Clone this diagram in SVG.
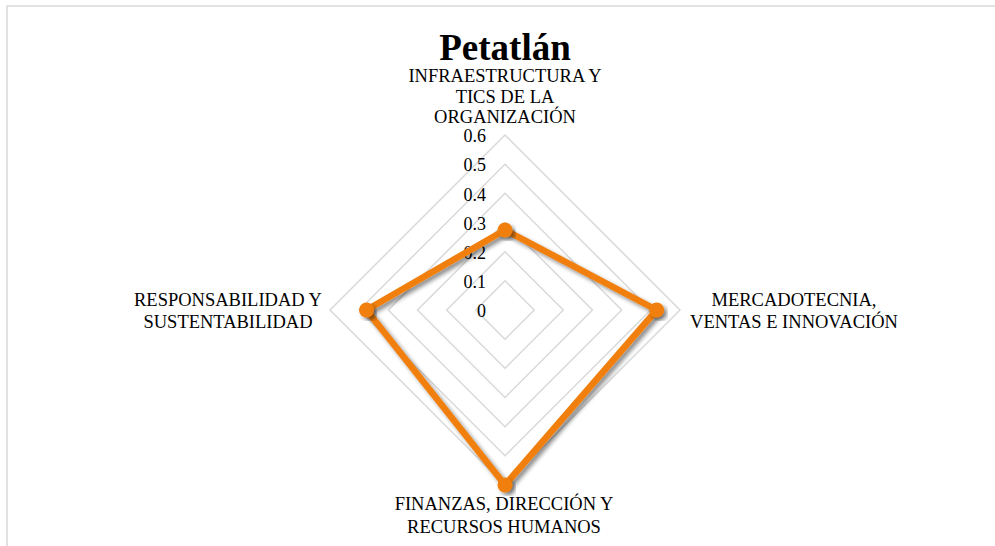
<svg xmlns="http://www.w3.org/2000/svg" width="995" height="546" viewBox="0 0 995 546">
<style>
.lbl{font-family:"Liberation Serif","Times New Roman",serif;font-size:18.5px;fill:#000;text-anchor:middle}
.tick{font-family:"Liberation Serif","Times New Roman",serif;font-size:18px;fill:#000;text-anchor:end}
.title{font-family:"Liberation Serif","Times New Roman",serif;font-size:37px;font-weight:bold;fill:#000;text-anchor:middle}
.grid{fill:none;stroke:#d9d9d9;stroke-width:1.5}
.series{fill:none;stroke:#f07f0c;stroke-width:6.5;stroke-linejoin:round}
.mk{fill:#f07f0c}
</style>
<defs>
<filter id="sh" x="-20%" y="-20%" width="140%" height="140%">
<feGaussianBlur in="SourceAlpha" stdDeviation="2"/>
<feOffset dx="2.5" dy="2.5" result="o"/>
<feComponentTransfer><feFuncA type="linear" slope="0.45"/></feComponentTransfer>
<feMerge><feMergeNode/><feMergeNode in="SourceGraphic"/></feMerge>
</filter>
</defs>
<rect width="995" height="546" fill="#fff"/>
<rect x="7" y="6" width="995" height="560" fill="none" stroke="#d9d9d9" stroke-width="1.5"/>
<g id="title"><text class="title" x="505" y="60">Petatlán</text></g>
<g id="grid">
<polygon class="grid" points="505,280.8 534.2,310 505,339.2 475.8,310"/>
<polygon class="grid" points="505,251.7 563.3,310 505,368.3 446.7,310"/>
<polygon class="grid" points="505,222.5 592.5,310 505,397.5 417.5,310"/>
<polygon class="grid" points="505,193.3 621.7,310 505,426.7 388.3,310"/>
<polygon class="grid" points="505,164.2 650.8,310 505,455.8 359.2,310"/>
<polygon class="grid" points="505,135 680,310 505,485 330,310"/>
</g>
<g id="ticks">
<text class="tick" x="486" y="317">0</text>
<text class="tick" x="486" y="287.5">0.1</text>
<text class="tick" x="486" y="258.5">0.2</text>
<text class="tick" x="486" y="229.5">0.3</text>
<text class="tick" x="486" y="200.5">0.4</text>
<text class="tick" x="486" y="171">0.5</text>
<text class="tick" x="486" y="142">0.6</text>
</g>
<g id="connectors" filter="url(#sh)">
<polygon class="series" points="505,230 656.7,310 505,485 366.5,310"/>
</g>
<g id="node-infra" filter="url(#sh)"><circle class="mk" cx="505" cy="230" r="7.5"/></g>
<g id="node-mercado" filter="url(#sh)"><circle class="mk" cx="656.7" cy="310" r="7.5"/></g>
<g id="node-finanzas" filter="url(#sh)"><circle class="mk" cx="505" cy="485" r="7.5"/></g>
<g id="node-responsabilidad" filter="url(#sh)"><circle class="mk" cx="366.5" cy="310" r="7.5"/></g>
<g id="label-infra">
<text class="lbl" x="505" y="82">INFRAESTRUCTURA Y</text>
<text class="lbl" x="505" y="102.5">TICS DE LA</text>
<text class="lbl" x="505" y="123">ORGANIZACIÓN</text>
</g>
<g id="label-mercado">
<text class="lbl" x="794" y="306">MERCADOTECNIA,</text>
<text class="lbl" x="794" y="328">VENTAS E INNOVACIÓN</text>
</g>
<g id="label-finanzas">
<text class="lbl" x="504" y="510">FINANZAS, DIRECCIÓN Y</text>
<text class="lbl" x="504" y="532.5">RECURSOS HUMANOS</text>
</g>
<g id="label-responsabilidad">
<text class="lbl" x="228" y="306">RESPONSABILIDAD Y</text>
<text class="lbl" x="228" y="328">SUSTENTABILIDAD</text>
</g>
</svg>
